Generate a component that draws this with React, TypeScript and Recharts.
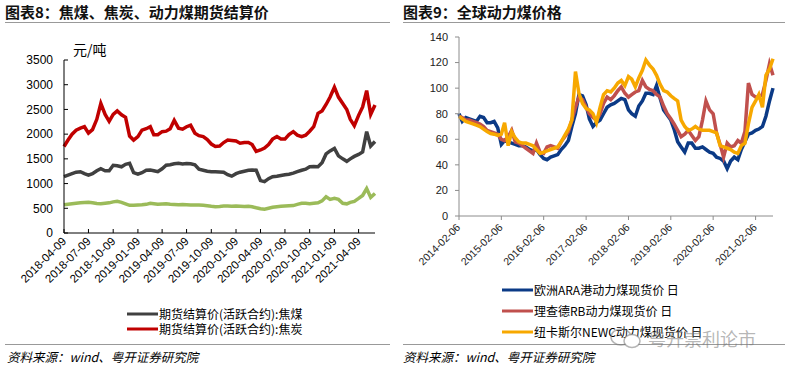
import React from "react";
import { LineChart, Line, XAxis, YAxis, Legend } from "recharts";

// 图表8：期货结算价，半月一个点，自 2018-04-09 起
const cokingCoal = [
  1140, 1170, 1200, 1230, 1240, 1200, 1170, 1200, 1260, 1300,
  1260, 1260, 1370, 1360, 1340, 1390, 1410, 1220, 1190, 1220,
  1270, 1274, 1260, 1240, 1300, 1370, 1380, 1400, 1410, 1395,
  1405, 1400, 1380, 1290, 1270, 1250, 1240, 1240, 1235, 1230,
  1180, 1150, 1200, 1230, 1250, 1270, 1275, 1270, 1060, 1040,
  1100, 1140, 1150, 1165, 1180, 1190, 1210, 1240, 1270, 1290,
  1340, 1345, 1340, 1420, 1600, 1660, 1710, 1560, 1500, 1450,
  1500, 1550, 1590, 1640, 2050, 1760, 1850,
];
const coke = [
  1750, 1880, 2000, 2080, 2120, 2150, 2020, 2090, 2300, 2620,
  2400, 2260, 2400, 2470, 2390, 2340, 1960, 1880, 1950, 2080,
  2110, 2150, 1990, 1990, 2050, 2060, 2110, 2280, 2120, 2100,
  2150, 2180, 2020, 1970, 1950, 1890, 1800, 1750, 1760, 1830,
  1880, 1870, 1860, 1815, 1830, 1830, 1790, 1650, 1680, 1720,
  1790, 1900, 1950, 1900, 1900, 1990, 2050, 1980, 1950, 1980,
  2060, 2150, 2420, 2470, 2600, 2750, 2950, 2750, 2620, 2500,
  2300, 2170, 2380, 2550, 2880, 2400, 2590,
];
const thermalCoal = [
  570, 580, 590, 600, 610, 615, 620, 610, 595, 590,
  600, 610, 630, 640, 620, 590, 560, 560, 565, 570,
  580, 600, 590, 580, 585, 590, 580, 575, 570, 575,
  570, 566, 566, 565, 560, 550, 540, 532, 535, 545,
  545, 540, 545, 540, 535, 540, 532, 510, 490, 480,
  500, 520, 532, 540, 545, 550, 555, 580, 600, 600,
  590, 600, 610, 650, 734, 680, 700, 680, 600, 590,
  620, 640, 700, 760, 900, 720, 800,
];
const leftTicks = [
  "2018-04-09", "2018-07-09", "2018-10-09", "2019-01-09", "2019-04-09",
  "2019-07-09", "2019-10-09", "2020-01-09", "2020-04-09", "2020-07-09",
  "2020-10-09", "2021-01-09", "2021-04-09",
];
const leftYTicks = [0, 500, 1000, 1500, 2000, 2500, 3000, 3500];
const leftLegend = ["期货结算价(活跃合约):焦煤", "期货结算价(活跃合约):焦炭"];

// 图表9：全球动力煤价格，月度，自 2014-02-06 起
const araPrice = [
  80, 74, 77, 76, 75, 74, 78, 77, 73, 73,
  74, 69, 56, 59, 58, 57, 56, 55, 55, 54,
  52, 51, 52, 48, 45, 44, 46, 47, 48, 52,
  55, 59, 70, 80, 95, 94, 87, 76, 70, 73,
  75, 80, 85, 87, 88, 90, 92, 91, 83, 80,
  78, 86, 90, 96, 96, 95, 102, 92, 83, 79,
  75, 68, 58, 54, 50, 57, 57, 53, 53, 54,
  52, 50, 49, 46, 45, 43, 37, 43, 46, 44,
  52, 58, 64, 65, 67, 68, 70, 78, 90, 100,
];
const rbPrice = [
  78, 77, 75, 75, 74, 73, 72, 70, 67, 66,
  65, 64, 60, 59, 62, 67, 58, 57, 55, 53,
  51, 49, 57, 50, 49, 54, 55, 54, 53, 58,
  62, 66, 75, 85, 93, 91, 85, 80, 77, 75,
  80, 88, 93, 91, 94, 98, 101, 96, 93, 95,
  97, 98, 106, 101, 99, 98, 95, 93, 86, 80,
  76, 72, 67, 62, 64, 67, 63, 59, 62, 75,
  90, 83, 80, 65, 56, 46, 57, 54, 55, 59,
  57, 66, 104, 95, 93, 93, 95, 106, 119, 110,
];
const newcPrice = [
  78, 76, 74, 73, 72, 71, 70, 68, 66, 64.5,
  64, 63, 64, 73, 55, 66, 61, 58, 57, 57,
  56, 55, 52, 49, 50, 51, 52, 53, 54, 58,
  63, 68, 75, 113, 96, 88, 84, 83, 80, 73,
  85, 95, 98, 97, 100, 104, 106, 102, 109, 107,
  101, 108, 114, 122, 118, 115, 110, 103, 98, 97,
  94, 92, 90, 75, 70, 67, 68, 70, 68, 67,
  67, 67, 66, 65, 55, 54, 53, 52, 50, 49,
  55, 57, 72, 85, 90, 95, 85, 110, 115, 123,
];
const rightTicks = [
  "2014-02-06", "2015-02-06", "2016-02-06", "2017-02-06",
  "2018-02-06", "2019-02-06", "2020-02-06", "2021-02-06",
];
const rightYTicks = [0, 20, 40, 60, 80, 100, 120, 140];
const rightLegend = ["欧洲ARA港动力煤现货价 日", "理查德RB动力煤现货价 日", "纽卡斯尔NEWC动力煤现货价 日"];

const leftData = coke.map((v, i) => ({
  t: Date.UTC(2018, 3 + Math.floor(i / 2), i % 2 === 0 ? 9 : 24),
  cokingCoal: cokingCoal[i],
  coke: v,
  thermal: thermalCoal[i],
}));
const rightData = araPrice.map((v, i) => ({
  t: Date.UTC(2014, 1 + i, 6),
  ara: v,
  rb: rbPrice[i],
  newc: newcPrice[i],
}));

const fmtDate = (t: number) => new Date(t).toISOString().slice(0, 10);
const AXIS_FONT = "'Liberation Sans', Arial, sans-serif";
const CJK = "'Noto Sans CJK SC', 'Liberation Sans', sans-serif";

const slantTick = (dx: number, dy: number, fontSize: number, fill: string) => (props: any) => {
  const { x, y, payload } = props;
  const ax = x + dx;
  const ay = y + dy;
  return (
    <text
      x={ax}
      y={ay}
      transform={`rotate(-45 ${ax} ${ay})`}
      textAnchor="end"
      fontSize={fontSize}
      fontFamily={AXIS_FONT}
      fill={fill}
    >
      {fmtDate(payload.value)}
    </text>
  );
};

// 图例按给定顺序排列，只显示列出的系列
const legendContent = (order: string[], rowHeight: number) => (props: any) => {
  const items = order
    .map((name) => (props.payload || []).find((e: any) => e.value === name))
    .filter(Boolean);
  return (
    <div style={{ fontFamily: CJK, fontSize: 12, lineHeight: `${rowHeight}px`, color: "#000" }}>
      {items.map((e: any) => (
        <div key={e.value} style={{ display: "flex", alignItems: "center", height: rowHeight, whiteSpace: "nowrap" }}>
          <svg width={31} height={4} style={{ marginRight: 1 }}>
            <line x1={0} y1={2} x2={31} y2={2} stroke={e.color} strokeWidth={3} />
          </svg>
          <span style={{ lineHeight: `${Math.min(rowHeight, 14)}px` }}>{e.value}</span>
        </div>
      ))}
    </div>
  );
};

const abs = (s: React.CSSProperties): React.CSSProperties => ({ position: "absolute", ...s });

export default function App() {
  return (
    <div style={{ position: "relative", width: 785, height: 372, background: "#fff", overflow: "hidden", fontFamily: CJK }}>
      <style>{`body{margin:0}`}</style>

      {/* 标题 */}
      <div style={abs({ left: 5, top: 3, fontSize: 15, fontWeight: "bold", lineHeight: "18px", color: "#111" })}>
        图表8：焦煤、焦炭、动力煤期货结算价
      </div>
      <div style={abs({ left: 403, top: 3, fontSize: 15, fontWeight: "bold", lineHeight: "18px", color: "#111" })}>
        图表9：全球动力煤价格
      </div>
      <div style={abs({ left: 5, top: 22, width: 385, borderTop: "1px solid #999" })} />
      <div style={abs({ left: 403, top: 22, width: 382, borderTop: "1px solid #999" })} />

      <div style={abs({ left: 73, top: 40, fontSize: 14, lineHeight: "18px", color: "#000" })}>元/吨</div>

      {/* 左图 */}
      <div style={abs({ left: 0, top: 0 })}>
        <LineChart width={390} height={300} data={leftData} margin={{ top: 60, right: 15, bottom: 7, left: 4 }}>
          <XAxis
            dataKey="t"
            type="number"
            domain={[leftData[0].t, leftData[leftData.length - 1].t]}
            ticks={leftTicks.map((d) => Date.parse(d))}
            interval={0}
            height={60}
            tickSize={-4}
            tickMargin={4}
            axisLine={{ stroke: "#000" }}
            tickLine={{ stroke: "#000" }}
            tick={slantTick(3, 9, 11.5, "#000")}
          />
          <YAxis
            domain={[0, 3500]}
            ticks={leftYTicks}
            interval={0}
            width={60}
            tickSize={-4}
            tickMargin={15}
            axisLine={{ stroke: "#000" }}
            tickLine={{ stroke: "#000" }}
            tick={{ fill: "#000", fontSize: 12, fontFamily: AXIS_FONT }}
          />
          <Legend
            layout="vertical"
            align="center"
            verticalAlign="middle"
            wrapperStyle={{ left: 127, top: 306, width: 240 }}
            content={legendContent(leftLegend, 15)}
          />
          <Line type="linear" dataKey="thermal" name="动力煤" stroke="#9BBB59" strokeWidth={3.5} dot={false} legendType="none" isAnimationActive={false} />
          <Line type="linear" dataKey="cokingCoal" name={leftLegend[0]} stroke="#404040" strokeWidth={3.5} dot={false} isAnimationActive={false} />
          <Line type="linear" dataKey="coke" name={leftLegend[1]} stroke="#C00000" strokeWidth={3.5} dot={false} isAnimationActive={false} />
        </LineChart>
      </div>

      {/* 右图 */}
      <div style={abs({ left: 395, top: 0 })}>
        <LineChart width={390} height={300} data={rightData} margin={{ top: 37, right: 12, bottom: 24, left: 4 }}>
          <XAxis
            dataKey="t"
            type="number"
            domain={[rightData[0].t, rightData[rightData.length - 1].t]}
            ticks={rightTicks.map((d) => Date.parse(d))}
            interval={0}
            height={60}
            tickSize={4}
            tickMargin={2}
            axisLine={{ stroke: "#8c8c8c" }}
            tickLine={{ stroke: "#8c8c8c" }}
            tick={slantTick(2, 6, 10.5, "#222")}
          />
          <YAxis
            domain={[0, 140]}
            ticks={rightYTicks}
            interval={0}
            width={60}
            tickSize={4}
            tickMargin={7}
            axisLine={{ stroke: "#8c8c8c" }}
            tickLine={{ stroke: "#8c8c8c" }}
            tick={{ fill: "#222", fontSize: 11, fontFamily: AXIS_FONT }}
          />
          <Legend
            layout="vertical"
            align="center"
            verticalAlign="middle"
            wrapperStyle={{ left: 107, top: 279, width: 260 }}
            content={legendContent(rightLegend, 21)}
          />
          <Line type="linear" dataKey="ara" name={rightLegend[0]} stroke="#0B3A86" strokeWidth={3.5} dot={false} isAnimationActive={false} />
          <Line type="linear" dataKey="rb" name={rightLegend[1]} stroke="#C0504D" strokeWidth={3.5} dot={false} isAnimationActive={false} />
          <Line type="linear" dataKey="newc" name={rightLegend[2]} stroke="#F7A800" strokeWidth={3.5} dot={false} isAnimationActive={false} />
        </LineChart>
      </div>

      {/* 资料来源 */}
      <div style={abs({ left: 5, top: 344, width: 385, borderTop: "1px solid #999" })} />
      <div style={abs({ left: 403, top: 344, width: 382, borderTop: "1px solid #999" })} />
      <div style={abs({ left: 7, top: 348, fontSize: 12.5, fontStyle: "italic", lineHeight: "18px", color: "#000" })}>
        资料来源：wind、粤开证券研究院
      </div>
      <div style={abs({ left: 403, top: 348, fontSize: 12.5, fontStyle: "italic", lineHeight: "18px", color: "#000" })}>
        资料来源：wind、粤开证券研究院
      </div>

      {/* 水印 */}
      <div style={abs({ left: 608, top: 326, display: "flex", alignItems: "center", color: "rgba(120,120,120,0.55)", fontSize: 18, lineHeight: "24px" })}>
        <svg width={38} height={22} style={{ marginRight: 2 }}>
          <ellipse cx={13} cy={10} rx={10} ry={8} fill="none" stroke="rgba(120,120,120,0.55)" strokeWidth={1.5} />
          <ellipse cx={24} cy={14} rx={8} ry={6.5} fill="#fff" stroke="rgba(120,120,120,0.55)" strokeWidth={1.5} />
        </svg>
        <span>粤开崇利论市</span>
      </div>
    </div>
  );
}
